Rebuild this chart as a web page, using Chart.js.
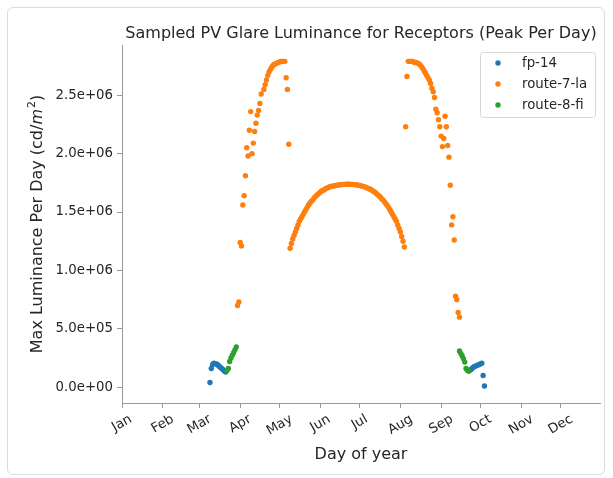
<!DOCTYPE html>
<html>
<head>
<meta charset="utf-8">
<script src="https://cdn.jsdelivr.net/npm/chart.js@4.4.1/dist/chart.umd.min.js"></script>
<style>
  html, body { margin: 0; padding: 0; background: #fff; }
  #wrap { position: relative; width: 613px; height: 478px; }
  #frame { position: absolute; left: 7px; top: 7px; width: 598px; height: 468px;
           border: 1px solid #dcdcdc; border-radius: 6px; box-sizing: border-box; }
  #c { position: absolute; left: 0; top: 0; }
</style>
</head>
<body>
<div id="wrap">
  <div id="frame"></div>
  <canvas id="c" width="613" height="478"></canvas>
</div>
<script>
// tick labels
const monthTicks = [1, 32, 60, 91, 121, 152, 182, 213, 244, 274, 305, 335];
const monthLabels = ['Jan', 'Feb', 'Mar', 'Apr', 'May', 'Jun', 'Jul', 'Aug', 'Sep', 'Oct', 'Nov', 'Dec'];
const yTicks = [0, 500000, 1000000, 1500000, 2000000, 2500000];

// fp-14 (values in millions of cd/m2)
const fpDays = [68, 69, 70, 71, 72, 73, 74, 75, 76, 77, 78, 79, 80,
                265, 266, 267, 268, 269, 270, 271, 272, 273, 274, 275, 276, 277];
const fpVals = [0.04, 0.16, 0.195, 0.205, 0.20, 0.20, 0.19, 0.18, 0.17, 0.16, 0.15, 0.14, 0.13,
                0.14, 0.145, 0.155, 0.165, 0.175, 0.18, 0.185, 0.19, 0.195, 0.20, 0.205, 0.10, 0.01];

// route-7-la
const r7Days = [89, 90, 91, 92, 93, 94, 95, 96, 97, 98, 99, 100, 101, 102, 103, 104, 105, 106, 107,
  109, 110, 111, 112, 113, 114, 115, 116, 117, 118, 119, 120, 121, 122, 123, 124, 125, 126, 127, 128,
  129, 130, 131, 132, 133, 134, 135, 136, 137, 138, 139, 140, 141, 142, 143, 144, 145, 146, 147, 148,
  149, 150, 151, 152, 153, 154, 155, 156, 157, 158, 159, 160, 161, 162, 163, 164, 165, 166, 167, 168,
  169, 170, 171, 172, 173, 174, 175, 176, 177, 178, 179, 180, 181, 182, 183, 184, 185, 186, 187, 188,
  189, 190, 191, 192, 193, 194, 195, 196, 197, 198, 199, 200, 201, 202, 203, 204, 205, 206, 207, 208,
  209, 210, 211, 212, 213, 214, 215, 216, 217, 218, 219, 220, 221, 222, 223, 224, 225, 226, 227, 228,
  229, 230, 231, 232, 233, 234, 235, 236, 237, 238, 239, 240, 241, 242, 243, 244, 245, 246, 247, 248,
  249, 250, 251, 252, 253, 254, 255, 256, 257, 258];
const r7Vals = [0.70, 0.73, 1.24, 1.21, 1.56, 1.64, 1.81, 2.05, 1.98, 2.20, 2.36, 2.00, 2.09, 2.19, 2.26, 2.33, 2.37, 2.43, 2.51,
  2.55, 2.59, 2.63, 2.67, 2.70, 2.72, 2.74, 2.755, 2.765, 2.77, 2.775, 2.78, 2.785, 2.79, 2.79, 2.79, 2.79, 2.65, 2.55, 2.08,
  1.19, 1.23, 1.27, 1.30, 1.33, 1.36, 1.39, 1.42, 1.44, 1.46, 1.48, 1.50, 1.52, 1.54, 1.56, 1.575, 1.59, 1.60, 1.615, 1.63,
  1.64, 1.65, 1.66, 1.67, 1.68, 1.685, 1.69, 1.70, 1.705, 1.71, 1.715, 1.72, 1.72, 1.725, 1.725, 1.728, 1.73, 1.732, 1.734, 1.735,
  1.736, 1.737, 1.737, 1.738, 1.738, 1.738, 1.737, 1.737, 1.736, 1.735, 1.734, 1.732, 1.73, 1.728, 1.725, 1.72, 1.72, 1.715, 1.71, 1.705,
  1.70, 1.695, 1.69, 1.68, 1.675, 1.665, 1.655, 1.645, 1.635, 1.625, 1.61, 1.60, 1.585, 1.57, 1.555, 1.54, 1.52, 1.50, 1.48, 1.46,
  1.44, 1.42, 1.39, 1.36, 1.33, 1.29, 1.25, 1.20, 2.23, 2.66, 2.79, 2.79, 2.79, 2.79, 2.785, 2.78, 2.78, 2.775, 2.77, 2.76,
  2.745, 2.73, 2.71, 2.69, 2.67, 2.65, 2.63, 2.60, 2.56, 2.53, 2.48, 2.38, 2.35, 2.29, 2.23, 2.15, 2.06, 2.13, 2.32, 2.23,
  2.07, 1.97, 1.73, 1.39, 1.46, 1.26, 0.78, 0.75, 0.64, 0.60];

// route-8-fi
const r8Days = [81, 82, 83, 84, 85, 86, 87, 88,
                258, 259, 260, 261, 262, 263, 264, 265];
const r8Vals = [0.145, 0.16, 0.22, 0.25, 0.275, 0.295, 0.32, 0.345,
                0.31, 0.29, 0.27, 0.245, 0.215, 0.16, 0.145, 0.14];

const seriesNames = ['fp-14', 'route-7-la', 'route-8-fi'];
const seriesColors = ['#1f77b4', '#ff7f0e', '#2ca02c'];

function toPoints(days, vals) {
  return days.map((d, i) => ({ x: d, y: vals[i] * 1e6 }));
}

const FONT = "'DejaVu Sans', sans-serif";
const TXT = '#262626';
const AX = '#9a9a9a';

// title, axis labels, month labels, legend
const decorations = {
  id: 'decorations',
  afterDraw(chart) {
    const ctx = chart.ctx;
    const a = chart.chartArea;
    ctx.save();
    ctx.fillStyle = TXT;
    ctx.textBaseline = 'alphabetic';

    // title
    ctx.font = '16px ' + FONT;
    ctx.textAlign = 'center';
    ctx.fillText('Sampled PV Glare Luminance for Receptors (Peak Per Day)', (a.left + a.right) / 2, 38);

    // x label
    ctx.fillText('Day of year', (a.left + a.right) / 2, 459);

    // month tick labels, rotated 30deg, box centred on the tick
    const xs = chart.scales.x;
    const th = 30 * Math.PI / 180;
    const fs = 13.3;
    ctx.font = fs + 'px ' + FONT;
    ctx.textAlign = 'right';
    monthTicks.forEach((v, i) => {
      const px = xs.getPixelForValue(v);
      const w = ctx.measureText(monthLabels[i]).width;
      const asc = 0.76 * fs, desc = 0.24 * fs;
      const ox = px - (desc * Math.sin(th) - w * Math.cos(th) - asc * Math.sin(th)) / 2;
      const oy = a.bottom + 9.5 + asc * Math.cos(th);
      ctx.save();
      ctx.translate(ox, oy);
      ctx.rotate(-th);
      ctx.fillText(monthLabels[i], 0, 0);
      ctx.restore();
    });

    // y label with math part
    ctx.save();
    ctx.translate(42, (a.top + a.bottom) / 2);
    ctx.rotate(-Math.PI / 2);
    const p1 = 'Max Luminance Per Day (cd/';
    ctx.font = '16px ' + FONT;
    const w1 = ctx.measureText(p1).width;
    ctx.font = 'italic 16px ' + FONT;
    const w2 = ctx.measureText('m').width;
    ctx.font = '11px ' + FONT;
    const w3 = ctx.measureText('2').width;
    ctx.font = '16px ' + FONT;
    const w4 = ctx.measureText(')').width;
    let x = -(w1 + w2 + w3 + w4 + 1) / 2;
    ctx.textAlign = 'left';
    ctx.fillText(p1, x, 0); x += w1;
    ctx.font = 'italic 16px ' + FONT;
    ctx.fillText('m', x, 0); x += w2 + 1;
    ctx.font = '11px ' + FONT;
    ctx.fillText('2', x, -7); x += w3;
    ctx.font = '16px ' + FONT;
    ctx.fillText(')', x, 0);
    ctx.restore();

    // legend
    const lx = 480.5, ly = 52.5, lw = 115, lh = 65;
    ctx.beginPath();
    ctx.roundRect(lx, ly, lw, lh, 3);
    ctx.fillStyle = 'rgba(255,255,255,0.8)';
    ctx.fill();
    ctx.strokeStyle = '#d6d6d6';
    ctx.lineWidth = 1;
    ctx.stroke();
    ctx.font = '13.3px ' + FONT;
    ctx.textBaseline = 'middle';
    ctx.textAlign = 'left';
    seriesNames.forEach((name, i) => {
      const cy = 63 + i * 21;
      ctx.beginPath();
      ctx.arc(498, cy, 2.7, 0, Math.PI * 2);
      ctx.fillStyle = seriesColors[i];
      ctx.fill();
      ctx.fillStyle = TXT;
      ctx.fillText(name, 522, cy + 1);
    });
    ctx.restore();
  }
};

new Chart(document.getElementById('c').getContext('2d'), {
  type: 'scatter',
  data: {
    datasets: [
      { label: seriesNames[0], data: toPoints(fpDays, fpVals), backgroundColor: seriesColors[0], order: 2 },
      { label: seriesNames[1], data: toPoints(r7Days, r7Vals), backgroundColor: seriesColors[1], order: 1 },
      { label: seriesNames[2], data: toPoints(r8Days, r8Vals), backgroundColor: seriesColors[2], order: 0 }
    ]
  },
  options: {
    responsive: false,
    animation: false,
    devicePixelRatio: 1,
    layout: { padding: { top: 45, left: 0, right: 13, bottom: 0 } },
    elements: { point: { radius: 2.7, borderWidth: 0, hoverRadius: 2.7 } },
    plugins: { legend: { display: false }, title: { display: false }, tooltip: { enabled: false } },
    scales: {
      x: {
        type: 'linear',
        min: 1,
        max: 365,
        afterBuildTicks(scale) { scale.ticks = monthTicks.map(v => ({ value: v })); },
        afterFit(scale) { scale.height = 75; scale.paddingLeft = 0; scale.paddingRight = 0; },
        grid: { drawOnChartArea: false, drawTicks: true, tickLength: 5, tickColor: AX },
        border: { display: true, color: AX, width: 1 },
        ticks: { display: false, autoSkip: false }
      },
      y: {
        min: -135000,
        max: 2930000,
        afterBuildTicks(scale) { scale.ticks = yTicks.map(v => ({ value: v })); },
        afterFit(scale) { scale.width = 122; scale.paddingTop = 0; scale.paddingBottom = 0; },
        grid: { drawOnChartArea: false, drawTicks: true, tickLength: 5, tickColor: AX },
        border: { display: true, color: AX, width: 1 },
        ticks: {
          padding: 4,
          color: TXT,
          font: { family: FONT, size: 13.3 },
          callback(v) { return v.toExponential(1).replace(/e([+-])(\d)$/, 'e$10$2'); }
        }
      }
    }
  },
  plugins: [decorations]
});
</script>
</body>
</html>
